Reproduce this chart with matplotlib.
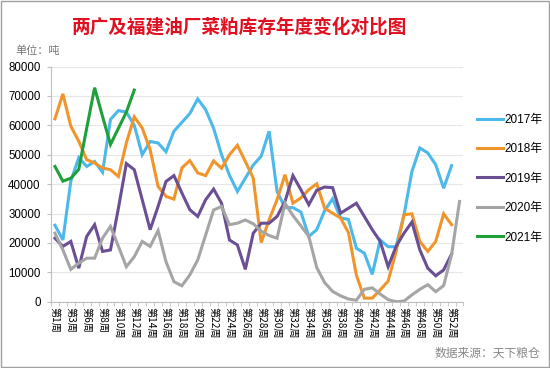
import matplotlib
matplotlib.use("Agg")
import matplotlib.pyplot as plt
import numpy as np
from matplotlib.patches import Rectangle
from matplotlib.ticker import FixedLocator

plt.rcParams['font.family'] = ['Liberation Sans', 'Noto Sans CJK SC', 'DejaVu Sans']

title = '两广及福建油厂菜粕库存年度变化对比图'
unit_text = '单位：吨'
source_text = '数据来源：天下粮仓'

week_nums = [1, 2, 3, 5] + list(range(6, 54))
weeks = ['第%d周' % w for w in week_nums]

y2017 = [26000, 21000, 41000, 49000, 46000, 47700, 44000, 62000, 65000, 64500,
         60000, 50000, 54500, 54000, 51000, 58000, 61000, 64000, 69000, 65300,
         59000, 50000, 43000, 37500, 42000, 46500, 49500, 58000, 37500, 32000,
         32000, 30500, 22200, 24500, 31000, 35000, 28500, 28000, 18200, 16500,
         9300, 21000, 18700, 18700, 29500, 44300, 52300, 50600, 46600, 38600,
         46300, np.nan]
y2018 = [62200, 70700, 59700, 54600, 48300, 47200, 45500, 44900, 42600, 54000,
         62900, 59100, 51700, 39200, 35800, 34900, 45500, 48000, 43800, 42900,
         47900, 45400, 50000, 53200, 47700, 42000, 20100, 27900, 34700, 43200,
         33500, 35300, 38100, 40100, 31800, 30100, 28500, 23500, 9000, 1200,
         1200, 4000, 7000, 17000, 29600, 29900, 20500, 17100, 20500, 29900,
         26200, np.nan]
y2019 = [21600, 18800, 20500, 11400, 22200, 26200, 17100, 17600, 31800, 47000,
         44900, 34700, 24500, 32400, 40900, 42900, 37000, 31300, 29000, 34700,
         38300, 33500, 21000, 19300, 11000, 23300, 26700, 26700, 29000, 34100,
         42900, 38100, 33000, 37900, 39000, 38800, 30100, 31800, 33500, 29000,
         24500, 20500, 11900, 18800, 23300, 27100, 17600, 11400, 8800, 10800,
         16200, np.nan]
y2020 = [23300, 17600, 11000, 13100, 14800, 14800, 21600, 25600, 18800, 11900,
         15300, 20500, 18800, 24200, 13600, 6800, 5400, 9100, 14200, 22700,
         31200, 32400, 26200, 26700, 27800, 26500, 24000, 22500, 21600, 33500,
         29300, 25800, 22200, 11600, 6500, 3500, 2000, 900, 500, 4200,
         4700, 2600, 700, 0, 200, 2300, 4200, 5800, 3400, 5500,
         16000, 34100]
y2021 = [46000, 41000, 42000, 45000, 59000, 72800, 63000, 53500, 59000, 64500,
         72000]

series = [('2017年', y2017, '#4db8ea'),
          ('2018年', y2018, '#f0952b'),
          ('2019年', y2019, '#6b4f94'),
          ('2020年', y2020, '#a5a5a5'),
          ('2021年', y2021, '#20a03a')]

fig = plt.figure(figsize=(5.5, 3.68), dpi=100)
ax = fig.add_axes([0.0927, 0.1802, 0.75, 0.639])

x = np.arange(len(weeks))
for name, vals, color in series:
    ax.plot(x[:len(vals)], vals, color=color, lw=2.2, label=name,
            solid_joinstyle='miter')

ax.set_xlim(-0.5, len(weeks) - 0.5)
ax.set_ylim(0, 80000)
ax.set_yticks(np.arange(0, 80001, 10000))
ax.tick_params(axis='y', labelsize=8.3, length=3, color='#bfbfbf', pad=4.5)

ax.set_xticks(x[::2])
ax.set_xticklabels(weeks[::2], rotation=270, fontsize=7.3,
                   family=['Noto Sans CJK SC', 'DejaVu Sans'])
ax.xaxis.set_minor_locator(FixedLocator(np.arange(-0.5, len(weeks), 1)))
ax.tick_params(axis='x', which='major', length=0, pad=4)
ax.tick_params(axis='x', which='minor', length=3, color='#bfbfbf')

ax.grid(axis='y', color='#e6e6e6', lw=0.8)
ax.set_axisbelow(True)
for s in ['top', 'right']:
    ax.spines[s].set_visible(False)
for s in ['left', 'bottom']:
    ax.spines[s].set_color('#bfbfbf')

fig.text(0.435, 0.926, title, color='#e01020', fontsize=13.4,
         fontweight='bold', ha='center', va='center',
         family=['Noto Sans CJK SC'])
fig.text(0.028, 0.862, unit_text, color='#777777', fontsize=8,
         ha='left', va='center', family=['Noto Sans CJK SC'])
fig.text(0.982, 0.04, source_text, color='#888888', fontsize=8.5,
         ha='right', va='center', style='italic',
         family=['Noto Sans CJK SC'])

ax.legend(loc='upper left', bbox_to_anchor=(0.848, 0.72),
          bbox_transform=fig.transFigure, frameon=False,
          handlelength=2.2, handletextpad=0.15, labelspacing=1.48,
          prop={'family': ['Liberation Sans', 'Noto Sans CJK SC'], 'size': 8.5})

fig.patches.append(Rectangle((0.001, 0.004), 0.997, 0.994, transform=fig.transFigure,
                             fill=False, edgecolor='#a0a0a0', lw=1))

plt.savefig('out.png', dpi=100)
